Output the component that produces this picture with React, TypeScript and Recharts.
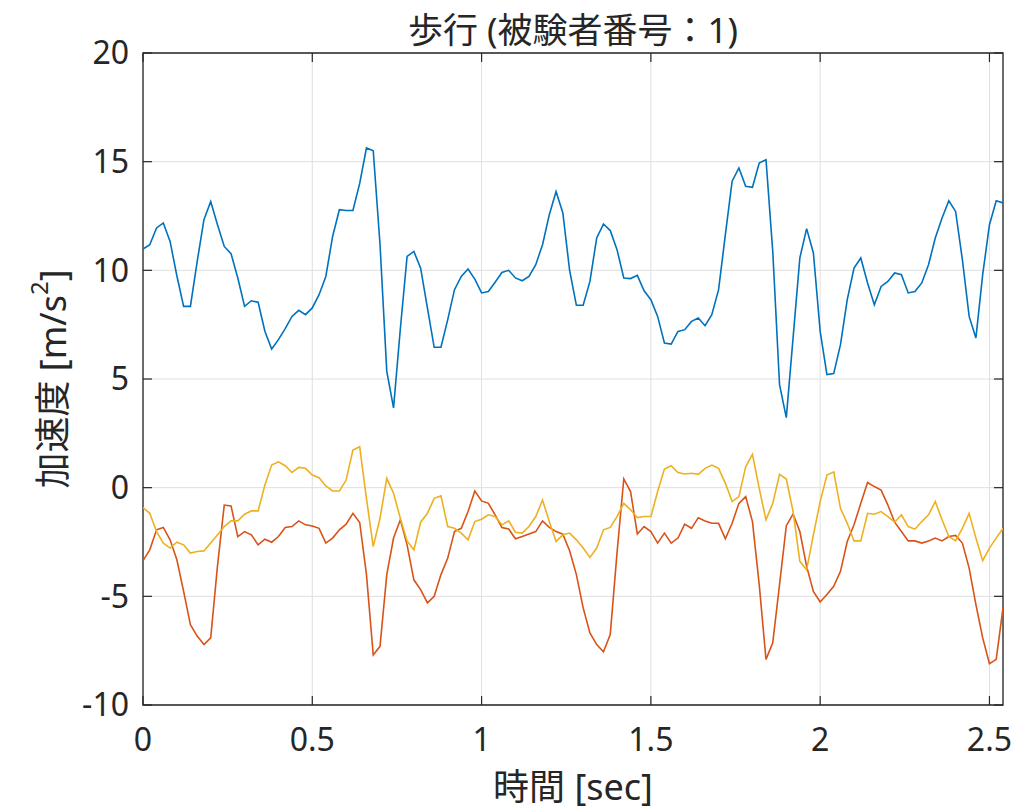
import { LineChart, Line, XAxis, YAxis, CartesianGrid, ReferenceArea, ReferenceLine } from 'recharts';

// sampling interval of the recording [sec]
const dt = 0.02;

const blueSeries = [
  10.98, 11.18, 11.95, 12.18, 11.33, 9.75, 8.34, 8.34, 10.4, 12.33,
  13.17, 12.1, 11.1, 10.77, 9.65, 8.34, 8.6, 8.53, 7.2, 6.38,
  6.81, 7.32, 7.88, 8.16, 7.96, 8.27, 8.88, 9.72, 11.56, 12.79,
  12.75, 12.75, 14.0, 15.63, 15.5, 11.2, 5.35, 3.67, 7.3, 10.64,
  10.87, 10.1, 8.27, 6.46, 6.46, 7.73, 9.11, 9.72, 10.06, 9.6,
  8.96, 9.03, 9.45, 9.9, 10.0, 9.65, 9.52, 9.72, 10.26, 11.18,
  12.56, 13.63, 12.64, 10.0, 8.39, 8.39, 9.49, 11.49, 12.13, 11.83,
  10.95, 9.65, 9.62, 9.77, 9.06, 8.65, 7.88, 6.66, 6.61, 7.19,
  7.27, 7.65, 7.81, 7.45, 7.96, 9.11, 11.64, 14.1, 14.71, 13.87,
  13.82, 14.94, 15.09, 10.87, 4.74, 3.22, 6.89, 10.57, 11.92, 10.8,
  7.19, 5.2, 5.25, 6.58, 8.65, 10.1, 10.57, 9.42, 8.42, 9.26,
  9.49, 9.88, 9.8, 8.96, 9.03, 9.42, 10.26, 11.49, 12.41, 13.2,
  12.71, 10.49, 7.88, 6.89, 9.8, 12.1, 13.2, 13.1,
];

const orangeSeries = [
  -3.36, -2.86, -1.94, -1.83, -2.4, -3.32, -4.77, -6.3, -6.83, -7.22,
  -6.91, -3.6, -0.8, -0.84, -2.25, -2.02, -2.17, -2.63, -2.37, -2.51,
  -2.25, -1.83, -1.79, -1.53, -1.71, -1.76, -1.87, -2.55, -2.32, -1.94,
  -1.68, -1.18, -1.6, -4.0, -7.7, -7.3, -4.0, -2.32, -1.48, -2.63,
  -4.24, -4.69, -5.3, -5.0, -4.0, -3.24, -2.02, -1.87, -1.1, -0.15,
  -0.61, -0.72, -1.25, -1.83, -1.9, -2.35, -2.25, -2.13, -2.02, -1.53,
  -1.83, -2.02, -2.14, -2.9, -4.0, -5.53, -6.68, -7.22, -7.55, -6.76,
  -3.0, 0.4, -0.18, -2.13, -1.79, -2.02, -2.55, -2.09, -2.55, -2.32,
  -1.68, -1.87, -1.38, -1.53, -1.64, -1.64, -2.35, -1.64, -0.72, -0.41,
  -1.56, -4.46, -7.9, -7.14, -4.46, -1.75, -1.22, -2.02, -3.62, -4.77,
  -5.26, -4.92, -4.54, -3.85, -2.48, -1.71, -0.72, 0.24, 0.05, -0.11,
  -0.8, -1.59, -2.02, -2.45, -2.45, -2.55, -2.45, -2.32, -2.45, -2.25,
  -2.2, -2.55, -3.7, -5.38, -6.91, -8.1, -7.9, -5.53,
];

const yellowSeries = [
  -0.92, -1.18, -2.02, -2.55, -2.78, -2.51, -2.63, -3.01, -2.94, -2.91,
  -2.55, -2.17, -1.79, -1.53, -1.53, -1.22, -1.07, -1.07, 0.12, 1.04,
  1.19, 1.01, 0.7, 0.93, 0.89, 0.58, 0.46, 0.08, -0.15, -0.15,
  0.35, 1.73, 1.88, -0.5, -2.71, -1.41, 0.43, -0.26, -1.41, -2.45,
  -2.86, -1.59, -1.18, -0.49, -0.38, -1.79, -1.87, -2.09, -2.4, -1.56,
  -1.45, -1.25, -1.33, -1.71, -1.53, -2.05, -2.09, -1.79, -1.33, -0.57,
  -1.56, -2.48, -2.17, -2.09, -2.4, -2.78, -3.21, -2.78, -1.94, -1.83,
  -1.33, -0.72, -1.02, -1.38, -1.33, -1.33, -0.18, 0.86, 1.01, 0.7,
  0.63, 0.66, 0.61, 0.89, 1.04, 0.89, 0.2, -0.64, -0.41, 0.96,
  1.53, -0.03, -1.48, -0.72, 0.61, 0.4, -1.1, -3.39, -3.78, -2.17,
  -0.64, 0.58, 0.73, -0.95, -1.64, -2.45, -2.45, -1.18, -1.22, -1.1,
  -1.33, -1.59, -1.25, -1.79, -1.91, -1.56, -1.25, -0.64, -1.48, -2.25,
  -2.45, -1.87, -1.18, -2.32, -3.36, -2.78, -2.32, -1.87,
];

const xTicks = [0, 0.5, 1, 1.5, 2, 2.5];
const yTicks = [-10, -5, 0, 5, 10, 15, 20];
const xMax = 2.54;
const yMin = -10;
const yMax = 20;

const data = blueSeries.map((v, i) => ({
  t: +(i * dt).toFixed(2),
  blue: v,
  orange: orangeSeries[i],
  yellow: yellowSeries[i],
}));

const textColor = '#262626';
const font = '"Noto Sans", "Noto Sans CJK JP", sans-serif';
// inward tick lengths in data units (~9px)
const xTickLen = 0.0265;
const yTickLen = 0.41;

export default function App() {
  return (
    <div style={{ position: 'absolute', left: 0, top: 0, width: 1028, height: 809, background: '#fff', fontFamily: font }}>
      <div
        style={{
          position: 'absolute',
          left: 143,
          width: 860,
          top: 9,
          textAlign: 'center',
          fontSize: 35,
          lineHeight: '42px',
          color: textColor,
        }}
      >
        歩行 (被験者番号：1)
      </div>
      <LineChart
        width={1028}
        height={809}
        data={data}
        margin={{ top: 53, right: 25, bottom: 54, left: 83 }}
      >
        <CartesianGrid stroke="#dfdfdf" strokeWidth={1} />
        <XAxis
          dataKey="t"
          type="number"
          domain={[0, xMax]}
          ticks={xTicks}
          allowDataOverflow
          height={50}
          axisLine={false}
          tickLine={false}
          tickSize={0}
          tickMargin={23}
          tick={{ fill: textColor, fontSize: 32, fontFamily: font }}
          label={{
            content: ({ viewBox }: any) => (
              <text
                x={viewBox.x + viewBox.width / 2}
                y={786}
                textAnchor="middle"
                dominantBaseline="central"
                fontSize={36}
                fill={textColor}
                fontFamily={font}
              >
                時間 [sec]
              </text>
            ),
          }}
        />
        <YAxis
          type="number"
          domain={[yMin, yMax]}
          ticks={yTicks}
          allowDataOverflow
          width={60}
          axisLine={false}
          tickLine={false}
          tickSize={0}
          tickMargin={14}
          tick={{ fill: textColor, fontSize: 32, fontFamily: font }}
          label={{
            content: ({ viewBox }: any) => (
              <text
                transform={`translate(52, ${viewBox.y + viewBox.height / 2}) rotate(-90)`}
                textAnchor="middle"
                dominantBaseline="central"
                fontSize={36}
                fill={textColor}
                fontFamily={font}
              >
                加速度 [m/s
                <tspan dy={-14} fontSize={24}>2</tspan>
                <tspan dy={14}>]</tspan>
              </text>
            ),
          }}
        />
        <Line type="linear" dataKey="blue" stroke="#0072BD" strokeWidth={1.6} dot={false} isAnimationActive={false} />
        <Line type="linear" dataKey="orange" stroke="#D95319" strokeWidth={1.6} dot={false} isAnimationActive={false} />
        <Line type="linear" dataKey="yellow" stroke="#EDB120" strokeWidth={1.6} dot={false} isAnimationActive={false} />
        <ReferenceArea x1={0} x2={xMax} y1={yMin} y2={yMax} fill="none" stroke={textColor} strokeWidth={1.3} />
        {xTicks.map((t) => (
          <ReferenceLine key={`xb${t}`} segment={[{ x: t, y: yMin }, { x: t, y: yMin + yTickLen }]} stroke={textColor} strokeWidth={1.2} />
        ))}
        {xTicks.map((t) => (
          <ReferenceLine key={`xt${t}`} segment={[{ x: t, y: yMax }, { x: t, y: yMax - yTickLen }]} stroke={textColor} strokeWidth={1.2} />
        ))}
        {yTicks.map((v) => (
          <ReferenceLine key={`yl${v}`} segment={[{ x: 0, y: v }, { x: xTickLen, y: v }]} stroke={textColor} strokeWidth={1.2} />
        ))}
        {yTicks.map((v) => (
          <ReferenceLine key={`yr${v}`} segment={[{ x: xMax, y: v }, { x: xMax - xTickLen, y: v }]} stroke={textColor} strokeWidth={1.2} />
        ))}
      </LineChart>
    </div>
  );
}
